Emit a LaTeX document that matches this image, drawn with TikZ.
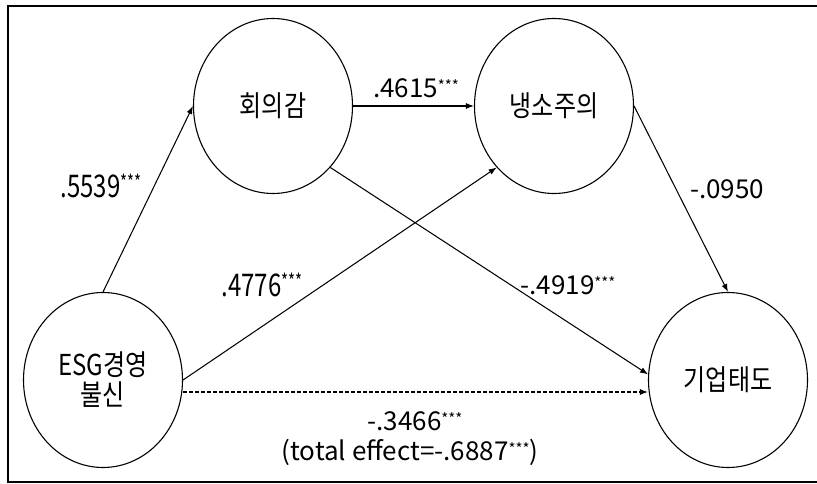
\documentclass[tikz,border=0pt]{standalone}
\usepackage{fontspec}
\setmainfont{Noto Sans CJK KR}
\usetikzlibrary{arrows.meta,shapes.geometric}
\newcommand{\tall}[2][1.2]{\scalebox{1}[#1]{#2}}
\newcommand{\sig}{\raisebox{6pt}{\fontsize{15}{15}\selectfont ***}}
\tikzset{
  var/.style={draw, ellipse, line width=1.1pt, inner sep=0pt, align=center,
              minimum width=159pt, minimum height=175pt,
              font=\fontsize{24}{30}\selectfont},
  link/.style={-{Latex[length=8pt,width=6pt]}, line width=1.05pt},
  total/.style={link, dash pattern=on 4pt off 2pt},
  coef/.style={font=\fontsize{26}{30}\selectfont, inner sep=0pt},
}

\begin{document}
\begin{tikzpicture}[x=1pt, y=-1pt]
  \useasboundingbox (0,0) rectangle (817,484);
  % frame (right side cut off)
  \draw[line width=1.5pt] (830,6) -- (8,6) -- (8,482) -- (830,482);
  % variables
  \node[var] (esg) at (103,380) {\tall{ESG경영}\\ \tall{불신}};
  \node[var] (doubt) at (273,106) {\tall{회의감}};
  \node[var] (cyn) at (554,106) {\tall{냉소주의}};
  \node[var] (att) at (728,380) {\tall{기업태도}};
  % paths
  \draw[link] (esg.north) -- (doubt.west);
  \draw[link] (doubt.east) -- (cyn.west);
  \draw[link] (esg.east) -- (cyn.227);
  \draw[link] (doubt.313) -- (att.176);
  \draw[link] (cyn.east) -- (att.north);
  \draw[total] ([yshift=-12pt]esg.east) -- ([yshift=-12pt]att.west);
  % coefficients
  \node[coef, font=\fontsize{24}{30}\selectfont] (c1) at (101,186)
    {\tall[1.3]{.5539\sig}};
  \node[coef] (c2) at (416,88) {.4615\sig};
  \node[coef, font=\fontsize{24}{30}\selectfont] (c3) at (262,285)
    {\tall[1.3]{.4776\sig}};
  \node[coef] (c4) at (568,285) {-.4919\sig};
  \node[coef] (c5) at (727,189) {-.0950};
  \node[coef] (c6) at (415,421) {-.3466\sig};
  \node[coef] (c7) at (410,452) {(total effect=-.6887\sig)};
\end{tikzpicture}
\end{document}
